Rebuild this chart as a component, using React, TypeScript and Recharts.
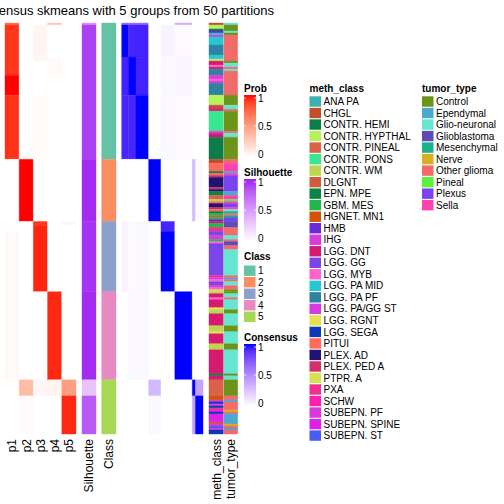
import React from 'react';
import { ComposedChart, XAxis, YAxis, ReferenceArea } from 'recharts';

// [value, number of samples] runs, samples ordered top to bottom
type Run = [number, number];
type CatRun = [string, number];

const SAMPLES = 205;

const prob1: Run[] = [[0.72, 1], [0.92, 25], [1, 10], [0.93, 32], [0, 36], [0.03, 74], [0, 27]];
const prob2: Run[] = [[0, 68], [1, 31], [0, 79], [0.35, 8], [0.02, 19]];
const prob3: Run[] = [[0, 1], [0.05, 18], [0, 17], [0.02, 32], [0, 31], [0.92, 2], [0.96, 33], [0, 44], [0.04, 8], [0, 19]];
const prob4: Run[] = [[0.3, 1], [0, 17], [0.03, 8], [0, 108], [0.95, 44], [0.06, 8], [0, 19]];
const prob5: Run[] = [[0, 99], [0.04, 2], [0, 77], [0.5, 8], [0.95, 19]];
const silhouette: Run[] = [[0.55, 1], [0.9, 67], [0.97, 31], [0.95, 35], [0.97, 44], [0.3, 8], [0.8, 19]];
const classRuns: Run[] = [[1, 68], [2, 31], [3, 35], [4, 44], [5, 27]];

const classLabels = ['1', '2', '3', '4', '5'];
const classColors = ['#66C2A5', '#FC8D62', '#8DA0CB', '#E78AC3', '#A6D854'];

// consensus matrix: column groups (sample counts) and row blocks [rows, value per column group]
const consensusGroups = [17, 19, 32, 31, 35, 44, 8, 19];
const consensusRows: [number, number[]][] = [
  [1, [0.65, 0.65, 0.65, 0, 0, 0.35, 0, 0]],
  [16, [1, 0.92, 0.93, 0, 0.05, 0.02, 0, 0]],
  [19, [0.93, 1, 0.93, 0, 0.03, 0.04, 0, 0]],
  [32, [0.92, 0.92, 1, 0, 0.03, 0.02, 0, 0]],
  [31, [0, 0, 0, 1, 0, 0, 0.3, 0.03]],
  [5, [0.05, 0.02, 0.03, 0, 0.92, 0, 0, 0]],
  [30, [0.05, 0.02, 0.03, 0, 1, 0, 0, 0]],
  [44, [0, 0.03, 0.03, 0, 0, 1, 0, 0]],
  [8, [0, 0, 0, 0.3, 0, 0, 1, 0.4]],
  [19, [0, 0, 0, 0.03, 0, 0, 0.4, 1]],
];

const methNames = [
  'ANA PA', 'CHGL', 'CONTR. HEMI', 'CONTR. HYPTHAL', 'CONTR. PINEAL', 'CONTR. PONS', 'CONTR. WM', 'DLGNT',
  'EPN. MPE', 'GBM. MES', 'HGNET. MN1', 'HMB', 'IHG', 'LGG. DNT', 'LGG. GG', 'LGG. MYB', 'LGG. PA MID',
  'LGG. PA PF', 'LGG. PA/GG ST', 'LGG. RGNT', 'LGG. SEGA', 'PITUI', 'PLEX. AD', 'PLEX. PED A', 'PTPR. A',
  'PXA', 'SCHW', 'SUBEPN. PF', 'SUBEPN. SPINE', 'SUBEPN. ST',
];
const methColors = [
  '#3BAFB2', '#C24E2C', '#0D7C4B', '#B6F25C', '#D9624B', '#38E891', '#BCD64F', '#CF5D3C',
  '#0A8443', '#1DB94A', '#D35403', '#6A2ADB', '#D93CDA', '#D61A71', '#7A46EA', '#FF62CA', '#25C8D2',
  '#2F82A0', '#D73BE2', '#E6E150', '#0B39B8', '#FF6A5C', '#1F1474', '#D52E69', '#D6E055',
  '#F0308F', '#FF1EB2', '#D83ADA', '#E020E6', '#4A5CF8',
];
const methRuns: CatRun[] = [
  ['CHGL', 1], ['CONTR. HYPTHAL', 2], ['CONTR. HEMI', 1], ['HMB', 1], ['LGG. PA MID', 1], ['IHG', 1],
  ['LGG. PA MID', 4], ['LGG. PA PF', 5], ['LGG. PA MID', 2], ['CONTR. HYPTHAL', 1], ['LGG. DNT', 2],
  ['LGG. MYB', 1], ['LGG. DNT', 1], ['LGG. PA PF', 3], ['IHG', 2], ['LGG. MYB', 1], ['IHG', 1],
  ['LGG. PA PF', 6], ['CONTR. HYPTHAL', 5], ['CHGL', 1], ['PLEX. PED A', 1], ['LGG. DNT', 1],
  ['CONTR. PONS', 10], ['IHG', 1], ['LGG. DNT', 2], ['CONTR. HEMI', 11],
  ['CHGL', 2], ['PITUI', 4], ['EPN. MPE', 1], ['PITUI', 1], ['PLEX. PED A', 1], ['PLEX. AD', 5],
  ['PLEX. PED A', 1], ['PLEX. AD', 1], ['EPN. MPE', 2], ['CONTR. PINEAL', 2], ['CONTR. WM', 1],
  ['PITUI', 1], ['PLEX. AD', 2], ['PLEX. PED A', 1], ['PITUI', 1], ['EPN. MPE', 1], ['GBM. MES', 1],
  ['DLGNT', 1], ['GBM. MES', 1], ['HMB', 1],
  ['LGG. DNT', 1], ['GBM. MES', 2], ['PXA', 2], ['LGG. GG', 2], ['IHG', 2], ['GBM. MES', 1],
  ['LGG. MYB', 1], ['LGG. GG', 16], ['PXA', 1], ['IHG', 1], ['LGG. MYB', 1], ['LGG. GG', 2], ['IHG', 1],
  ['LGG. MYB', 1], ['PTPR. A', 1],
  ['CONTR. WM', 1], ['LGG. DNT', 2], ['LGG. MYB', 1], ['LGG. DNT', 4], ['LGG. RGNT', 1], ['CONTR. WM', 2],
  ['LGG. DNT', 6], ['CONTR. WM', 3], ['LGG. RGNT', 1], ['LGG. DNT', 5], ['CONTR. WM', 3], ['LGG. DNT', 12],
  ['EPN. MPE', 1], ['LGG. DNT', 2],
  ['CONTR. PINEAL', 8], ['HGNET. MN1', 2], ['SUBEPN. PF', 1], ['LGG. SEGA', 1], ['IHG', 1], ['LGG. SEGA', 1],
  ['PXA', 1], ['SUBEPN. SPINE', 1], ['LGG. SEGA', 1], ['SUBEPN. SPINE', 4], ['DLGNT', 1], ['IHG', 1],
  ['SUBEPN. ST', 1], ['SUBEPN. PF', 1], ['LGG. SEGA', 2],
];

const tumorNames = ['Control', 'Ependymal', 'Glio-neuronal', 'Glioblastoma', 'Mesenchymal', 'Nerve', 'Other glioma', 'Pineal', 'Plexus', 'Sella'];
const tumorColors = ['#6B9419', '#4DA8D0', '#66E6D0', '#5B4CB8', '#17B48A', '#D8B022', '#F26B6B', '#5AF23C', '#7B42F2', '#FF40B2'];
const tumorRuns: CatRun[] = [
  ['Glio-neuronal', 1], ['Control', 3], ['Glio-neuronal', 1], ['Control', 1], ['Other glioma', 13],
  ['Control', 1], ['Glio-neuronal', 2], ['Other glioma', 1], ['Glio-neuronal', 1], ['Other glioma', 12],
  ['Control', 5], ['Glio-neuronal', 2], ['Other glioma', 1], ['Control', 10], ['Other glioma', 1],
  ['Glio-neuronal', 2], ['Control', 11],
  ['Other glioma', 2], ['Sella', 4], ['Ependymal', 1], ['Sella', 1], ['Plexus', 8], ['Ependymal', 2],
  ['Sella', 2], ['Pineal', 1], ['Sella', 1], ['Plexus', 2], ['Sella', 1], ['Glio-neuronal', 1],
  ['Mesenchymal', 1], ['Other glioma', 1], ['Mesenchymal', 1], ['Plexus', 2],
  ['Glioblastoma', 3], ['Other glioma', 4], ['Glio-neuronal', 2], ['Other glioma', 1], ['Glioblastoma', 2],
  ['Other glioma', 2], ['Glio-neuronal', 13], ['Other glioma', 1], ['Ependymal', 1], ['Other glioma', 1],
  ['Glio-neuronal', 2], ['Other glioma', 2], ['Control', 1],
  ['Control', 1], ['Glio-neuronal', 2], ['Other glioma', 1], ['Glio-neuronal', 5], ['Control', 2],
  ['Glio-neuronal', 6], ['Control', 3], ['Glio-neuronal', 6], ['Control', 3], ['Glio-neuronal', 12],
  ['Control', 1], ['Glio-neuronal', 2],
  ['Control', 8], ['Other glioma', 2], ['Ependymal', 1], ['Other glioma', 4], ['Nerve', 1],
  ['Other glioma', 1], ['Ependymal', 5], ['Nerve', 1], ['Other glioma', 1], ['Ependymal', 1], ['Other glioma', 2],
];

const columnLabels = ['p1', 'p2', 'p3', 'p4', 'p5', 'Silhouette', 'Class', 'meth_class', 'tumor_type'];

// ---- colour ramps (white -> colour in LAB, like circlize::colorRamp2) ----
const toLin = (c: number) => {
  const v = c / 255;
  return v <= 0.04045 ? v / 12.92 : Math.pow((v + 0.055) / 1.055, 2.4);
};
const fromLin = (c: number) => {
  const v = c <= 0.0031308 ? 12.92 * c : 1.055 * Math.pow(c, 1 / 2.4) - 0.055;
  return Math.round(Math.max(0, Math.min(1, v)) * 255);
};
const fLab = (t: number) => (t > 216 / 24389 ? Math.cbrt(t) : (24389 / 27 * t + 16) / 116);
const fInv = (t: number) => (t * t * t > 216 / 24389 ? t * t * t : (116 * t - 16) / (24389 / 27));
const toLab = (hex: string) => {
  const r = toLin(parseInt(hex.slice(1, 3), 16));
  const g = toLin(parseInt(hex.slice(3, 5), 16));
  const b = toLin(parseInt(hex.slice(5, 7), 16));
  const X = (0.4124 * r + 0.3576 * g + 0.1805 * b) / 0.95047;
  const Y = 0.2126 * r + 0.7152 * g + 0.0722 * b;
  const Z = (0.0193 * r + 0.1192 * g + 0.9505 * b) / 1.08883;
  return [116 * fLab(Y) - 16, 500 * (fLab(X) - fLab(Y)), 200 * (fLab(Y) - fLab(Z))];
};
const fromLab = ([L, a, bb]: number[]) => {
  const fy = (L + 16) / 116;
  const X = 0.95047 * fInv(fy + a / 500);
  const Y = fInv(fy);
  const Z = 1.08883 * fInv(fy - bb / 200);
  const r = fromLin(3.2406 * X - 1.5372 * Y - 0.4986 * Z);
  const g = fromLin(-0.9689 * X + 1.8758 * Y + 0.0415 * Z);
  const b = fromLin(0.0557 * X - 0.204 * Y + 1.057 * Z);
  return `rgb(${r},${g},${b})`;
};
const ramp = (hi: string) => {
  const w = toLab('#FFFFFF');
  const c = toLab(hi);
  return (v: number) => fromLab(w.map((x, i) => x + (c[i] - x) * v));
};
const probColor = ramp('#FF0000');
const silColor = ramp('#A020F0');
const consColor = ramp('#0000FF');
const methColor = (n: string) => methColors[methNames.indexOf(n)];
const tumorColor = (n: string) => tumorColors[tumorNames.indexOf(n)];

// ---- track layout (x axis units = pixels of the 504 wide plot) ----
const TRACKS = {
  p: { start: 5, width: 14.2 },
  sil: [82, 96],
  cls: [101.7, 116],
  cons: [121.7, 203],
  meth: [209, 223.3],
  tumor: [224, 237.7],
};
const labelX = [12.1, 26.3, 40.5, 54.7, 68.9, 89, 108.9, 216.2, 230.9];

type Cell = { x1: number; x2: number; y1: number; y2: number; fill: string };

function runCells<T>(runs: [T, number][], x1: number, x2: number, color: (v: T) => string): Cell[] {
  let s = 0;
  return runs.map(([v, n]) => {
    const c = { x1, x2, y1: s, y2: s + n, fill: color(v) };
    s += n;
    return c;
  });
}

function buildCells(): Cell[] {
  const cells: Cell[] = [];
  [prob1, prob2, prob3, prob4, prob5].forEach((runs, i) => {
    const x1 = TRACKS.p.start + i * TRACKS.p.width;
    cells.push(...runCells(runs, x1, x1 + TRACKS.p.width, probColor));
  });
  cells.push(...runCells(silhouette, TRACKS.sil[0], TRACKS.sil[1], silColor));
  cells.push(...runCells(classRuns, TRACKS.cls[0], TRACKS.cls[1], (k: number) => classColors[k - 1]));
  const colW = (TRACKS.cons[1] - TRACKS.cons[0]) / SAMPLES;
  let r = 0;
  consensusRows.forEach(([n, vals]) => {
    let c = 0;
    consensusGroups.forEach((g, j) => {
      cells.push({ x1: TRACKS.cons[0] + c * colW, x2: TRACKS.cons[0] + (c + g) * colW, y1: r, y2: r + n, fill: consColor(vals[j]) });
      c += g;
    });
    r += n;
  });
  cells.push(...runCells(methRuns, TRACKS.meth[0], TRACKS.meth[1], methColor));
  cells.push(...runCells(tumorRuns, TRACKS.tumor[0], TRACKS.tumor[1], tumorColor));
  return cells;
}

const FONT = '"Liberation Sans", Arial, Helvetica, sans-serif';

const ColumnTick = (props: any) => {
  const { x, payload } = props;
  const i = labelX.indexOf(payload.value);
  const bx = x + 4.3;
  const by = 439;
  return (
    <text x={bx} y={by} transform={`rotate(-90, ${bx}, ${by})`} textAnchor="end" fontSize={12} fontFamily={FONT} fill="#000">
      {columnLabels[i]}
    </text>
  );
};

const GradientLegend = ({ id, title, x, top, color }: { id: string; title: string; x: number; top: number; color: (v: number) => string }) => {
  const barTop = top + 7;
  const barBottom = barTop + 62;
  const y1 = barTop + 3;
  const y0 = barBottom - 3;
  const stops = [0, 0.1, 0.2, 0.3, 0.4, 0.5, 0.6, 0.7, 0.8, 0.9, 1];
  return (
    <g>
      <defs>
        <linearGradient id={id} x1="0" y1="0" x2="0" y2="1">
          {stops.map((s) => (
            <stop key={s} offset={s} stopColor={color(1 - s)} />
          ))}
        </linearGradient>
      </defs>
      <text x={x} y={top + 3.5} fontSize={10} fontWeight="bold" fontFamily={FONT}>{title}</text>
      <rect x={x} y={barTop} width={12} height={barBottom - barTop} fill={`url(#${id})`} />
      {[y1, (y1 + y0) / 2, y0].map((ty) => (
        <g key={ty}>
          <line x1={x} x2={x + 2} y1={ty} y2={ty} stroke="#fff" strokeWidth={0.8} />
          <line x1={x + 10} x2={x + 12} y1={ty} y2={ty} stroke="#fff" strokeWidth={0.8} />
        </g>
      ))}
      {[['1', y1], ['0.5', (y1 + y0) / 2], ['0', y0]].map(([t, ty]) => (
        <text key={t as string} x={x + 14} y={(ty as number) + 3.5} fontSize={10} fontFamily={FONT}>{t}</text>
      ))}
    </g>
  );
};

const DiscreteLegend = ({ title, x, top, names, colors, first }: { title: string; x: number; top: number; names: string[]; colors: string[]; first: number }) => (
  <g>
    <text x={x} y={top + 3.5} fontSize={10} fontWeight="bold" fontFamily={FONT}>{title}</text>
    {names.map((n, i) => {
      const cy = first + i * 11.52;
      return (
        <g key={n}>
          <rect x={x} y={cy - 5.2} width={11.5} height={10.4} fill={colors[i]} />
          <text x={x + 14} y={cy + 3.6} fontSize={10} fontFamily={FONT}>{n}</text>
        </g>
      );
    })}
  </g>
);

export default function App() {
  const cells = buildCells();
  return (
    <div style={{ position: 'absolute', left: 0, top: 0, width: 504, height: 504, background: '#fff' }}>
      <ComposedChart width={504} height={504} data={[{ x: 0, y: 0 }]} margin={{ top: 23, right: 0, bottom: 0, left: 0 }}>
        <XAxis
          type="number"
          dataKey="x"
          domain={[0, 504]}
          allowDataOverflow
          ticks={labelX}
          interval={0}
          tick={<ColumnTick />}
          axisLine={false}
          tickLine={false}
          height={70}
        />
        <YAxis type="number" dataKey="y" domain={[0, SAMPLES]} reversed hide allowDataOverflow />
        {cells.map((c, i) => (
          <ReferenceArea
            key={i}
            x1={c.x1}
            x2={c.x2}
            y1={c.y1}
            y2={c.y2}
            fill={c.fill}
            fillOpacity={1}
            stroke={c.fill}
            strokeWidth={0.4}
            ifOverflow="visible"
          />
        ))}
      </ComposedChart>
      <svg width={504} height={504} style={{ position: 'absolute', left: 0, top: 0, pointerEvents: 'none' }}>
        <text x={274} y={14.5} textAnchor="end" fontSize={13} fontFamily={FONT}>
          Consensus skmeans with 5 groups from 50 partitions
        </text>
        <GradientLegend id="gProb" title="Prob" x={244} top={88} color={probColor} />
        <GradientLegend id="gSil" title="Silhouette" x={244} top={172} color={silColor} />
        <DiscreteLegend title="Class" x={244} top={256} names={classLabels} colors={classColors} first={270.7} />
        <GradientLegend id="gCons" title="Consensus" x={244} top={337} color={consColor} />
        <DiscreteLegend title="meth_class" x={309.5} top={88} names={methNames} colors={methColors} first={101.5} />
        <DiscreteLegend title="tumor_type" x={422} top={88} names={tumorNames} colors={tumorColors} first={101.5} />
      </svg>
    </div>
  );
}
